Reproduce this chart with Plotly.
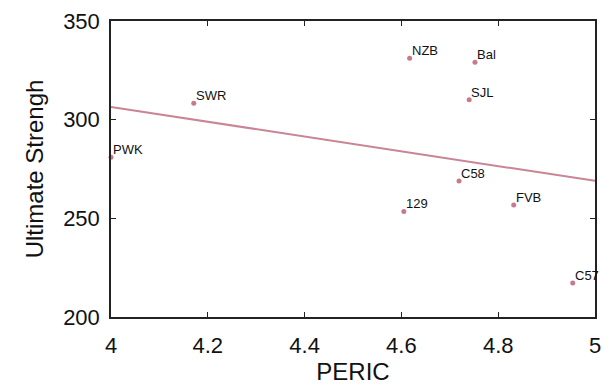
import numpy as np
import plotly.graph_objects as go

# Strain means (PERIC vs ultimate strength)
strains = ["PWK", "SWR", "NZB", "Bal", "SJL", "C58", "129", "FVB", "C57"]
peric = [4.0, 4.171, 4.617, 4.752, 4.740, 4.719, 4.605, 4.832, 4.954]
strength = [281.0, 308.3, 331.1, 329.1, 310.1, 268.9, 253.5, 256.8, 217.2]

x_ticks = [4, 4.2, 4.4, 4.6, 4.8, 5]
x_tick_text = ["4", "4.2", "4.4", "4.6", "4.8", "5"]
y_ticks = [200, 250, 300, 350]
x_range = [4, 5]
y_range = [200, 350]

# least-squares trend line across the axis range
slope, intercept = np.polyfit(peric, strength, 1)
fit_x = list(x_range)
fit_y = [slope * v + intercept for v in fit_x]

pink = "#c9798c"
font = "Liberation Sans, Arial, Helvetica, sans-serif"
ink = "#111111"
frame_color = "#222222"

fig = go.Figure()
fig.add_trace(go.Scatter(
    x=fit_x, y=fit_y, mode="lines",
    line=dict(color="#c98595", width=2),
    hoverinfo="skip", showlegend=False,
))
fig.add_trace(go.Scatter(
    x=peric, y=strength, mode="markers",
    marker=dict(color=pink, size=5),
    cliponaxis=False, showlegend=False,
))

# strain names sit just above-right of each point
for name, xv, yv in zip(strains, peric, strength):
    fig.add_annotation(
        x=xv, y=yv, text=name, showarrow=False,
        xanchor="left", yanchor="bottom", xshift=0, yshift=-2,
        font=dict(family=font, size=13, color=ink),
    )

# boxed axes with short inward ticks on every side
axis_common = dict(
    showline=True, linecolor=frame_color, linewidth=1.5, mirror="allticks",
    ticks="inside", ticklen=5, tickcolor=frame_color, tickwidth=1.2,
    showgrid=False, zeroline=False,
    tickfont=dict(family=font, size=22, color=ink),
)

fig.update_layout(
    template="simple_white",
    width=610, height=388,
    margin=dict(l=111, r=9, t=20, b=67),
    xaxis=dict(
        range=x_range, tickvals=x_ticks, ticktext=x_tick_text,
        ticklabelstandoff=8,
        title=dict(text="PERIC", font=dict(family=font, size=24, color=ink), standoff=4),
        **axis_common,
    ),
    yaxis=dict(
        range=y_range, tickvals=y_ticks,
        ticklabelstandoff=5,
        title=dict(text="Ultimate Strengh", font=dict(family=font, size=24, color=ink), standoff=13),
        **axis_common,
    ),
)

fig.write_html("out.html")
